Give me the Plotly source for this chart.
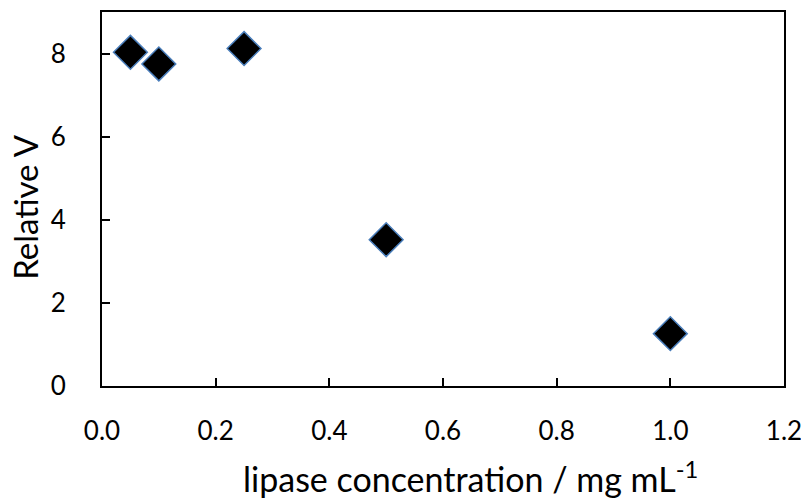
import plotly.graph_objects as go

conc = [0.05, 0.1, 0.25, 0.5, 1.0]
rel_v = [8.03, 7.75, 8.12, 3.52, 1.26]
x_ticks = [0.0, 0.2, 0.4, 0.6, 0.8, 1.0, 1.2]
x_tick_labels = ["0.0", "0.2", "0.4", "0.6", "0.8", "1.0", "1.2"]
y_ticks = [0, 2, 4, 6, 8]
x_title = "lipase concentration / mg mL<sup>-1</sup>"
y_title = "Relative V"

font = "Lato, 'Open Sans', sans-serif"

fig = go.Figure(go.Scatter(
    x=conc, y=rel_v, mode="markers",
    marker=dict(symbol="diamond", size=26, color="black",
                line=dict(color="#4a7ebb", width=1.5)),
))

fig.update_layout(
    width=801, height=500,
    margin=dict(l=102, r=17, t=12, b=114),
    plot_bgcolor="white", paper_bgcolor="white",
    showlegend=False,
    font=dict(family=font, size=26, color="black"),
    annotations=[
        dict(text=x_title, xref="paper", yref="paper", x=0.541, y=-0.242,
             xanchor="center", yanchor="middle", showarrow=False,
             font=dict(size=34)),
        dict(text=y_title, xref="paper", yref="paper", x=-0.113, y=0.479,
             xanchor="center", yanchor="middle", showarrow=False,
             textangle=-90, font=dict(size=33)),
    ],
)
fig.update_xaxes(
    range=[0, 1.2000001], tickvals=x_ticks, ticktext=x_tick_labels,
    tickfont=dict(size=26), ticklabeloverflow="allow", automargin=False,
    ticks="inside", ticklen=8, tickwidth=1.5, tickcolor="black",
    showline=True, linecolor="black", linewidth=2, mirror=True,
    showgrid=False, zeroline=False, ticklabelstandoff=21,
)
fig.update_yaxes(
    range=[0, 9], tickvals=y_ticks, automargin=False,
    tickfont=dict(size=26),
    ticks="inside", ticklen=8, tickwidth=1.5, tickcolor="black",
    showline=True, linecolor="black", linewidth=2, mirror=True,
    showgrid=False, zeroline=False, ticklabelstandoff=29,
)

fig.write_html("out.html")
